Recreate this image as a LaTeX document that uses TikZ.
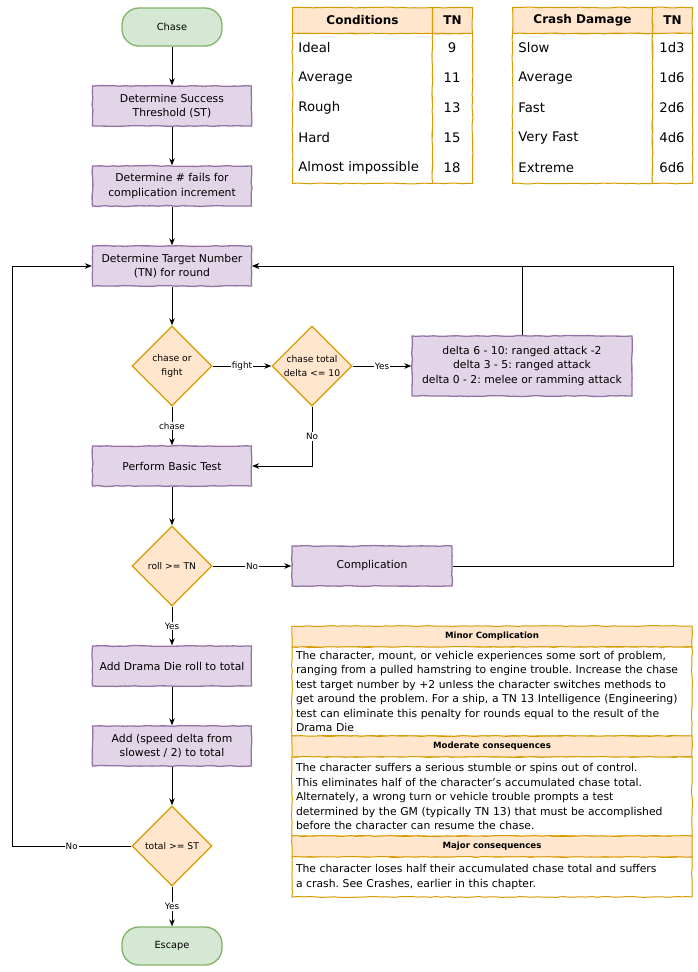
\documentclass[tikz,border=0pt]{standalone}
\usepackage{fontspec}
\setmainfont{DejaVu Sans}
\usepackage{tikz}
\usetikzlibrary{arrows.meta}
\usetikzlibrary{shapes.geometric}
\usetikzlibrary{decorations.pathmorphing}
\definecolor{termfill}{HTML}{D5E8D4}
\definecolor{termline}{HTML}{82B366}
\definecolor{procfill}{HTML}{E1D5E7}
\definecolor{procline}{HTML}{9673A6}
\definecolor{decfill}{HTML}{FFE6CC}
\definecolor{decline}{HTML}{D79B00}
\frenchspacing
\tikzset{
	>={Stealth[length=7pt,width=5.5pt]},
	sketchy/.style={decorate,decoration={random steps,segment length=6pt,amplitude=0.45pt}},
	termstyle/.style={rectangle,rounded corners=17pt,draw=termline,fill=termfill,line width=1.3pt,minimum width=100,minimum height=38,font=\fontsize{9.8}{12}\selectfont},
	procstyle/.style={rectangle,sketchy,draw=procline,fill=procfill,line width=1.3pt,minimum width=159,minimum height=40,align=center,font=\fontsize{10.8}{14.5}\selectfont},
	decstyle/.style={diamond,aspect=1,draw=decline,fill=decfill,line width=1.3pt,minimum width=80,minimum height=80,inner sep=0pt,align=center,font=\fontsize{9.2}{13.5}\selectfont},
	edgelabel/.style={fill=white,inner sep=1pt,font=\fontsize{8.8}{10}\selectfont},
	headstyle/.style={rectangle,sketchy,draw=decline,fill=decfill,line width=1pt,font=\bfseries\fontsize{12}{14}\selectfont},
	bodystyle/.style={rectangle,sketchy,draw=decline,fill=white,line width=1pt},
	cellstyle/.style={inner sep=0pt,font=\fontsize{13.2}{15}\selectfont},
	notehead/.style={rectangle,sketchy,draw=decline,fill=decfill,line width=1pt,minimum width=400,minimum height=21,font=\bfseries\fontsize{8.6}{10}\selectfont},
	notebody/.style={rectangle,sketchy,draw=decline,fill=white,line width=1pt,minimum width=400,text width=392,inner xsep=4pt,align=left,font=\fontsize{10.8}{14.5}\selectfont},
	every path/.append style={line width=0.9pt}
}
\begin{document}
\begin{tikzpicture}[x=1pt,y=-1pt]
	\pgfmathsetseed{11}
	\path[use as bounding box,fill=white] (0,0) rectangle (698,972);
	% flowchart
	\node[termstyle] (chase) at (172,27) {Chase};
	\node[procstyle] (st) at (172,106) {Determine Success\\Threshold (ST)};
	\node[procstyle] (fails) at (172,186) {Determine \# fails for\\complication increment};
	\node[procstyle] (tn) at (172,266) {Determine Target Number\\(TN) for round};
	\node[decstyle] (cof) at (172,366) {chase or\\fight};
	\node[decstyle] (ctd) at (312,366) {chase total\\delta <= 10};
	\node[procstyle,minimum width=220,minimum height=60] (delta) at (522,366) {delta 6 - 10: ranged attack -2\\delta 3 - 5: ranged attack\\delta 0 - 2: melee or ramming attack};
	\node[procstyle] (basic) at (172,466) {Perform Basic Test};
	\node[decstyle] (roll) at (172,566) {roll >= TN};
	\node[procstyle,minimum width=160] (comp) at (372,566) {Complication};
	\node[procstyle] (drama) at (172,666) {Add Drama Die roll to total};
	\node[procstyle] (speed) at (172,746) {Add (speed delta from\\slowest / 2) to total};
	\node[decstyle] (total) at (172,846) {total >= ST};
	\node[termstyle] (escape) at (172,946) {Escape};
	\coordinate (loopL) at (12,266);
	\coordinate (loopR) at (673,266);
	\draw[->] (chase)--(st);
	\draw[->] (st)--(fails);
	\draw[->] (fails)--(tn);
	\draw[->] (tn)--(cof);
	\draw[->] (cof)--node[edgelabel]{fight}(ctd);
	\draw[->] (ctd)--node[edgelabel]{Yes}(delta);
	\draw[->] (delta.north)|-(tn.east);
	\draw[->] (cof)--node[edgelabel]{chase}(basic);
	\draw[->] (ctd)|-node[edgelabel,pos=0.25]{No}(basic);
	\draw[->] (basic)--(roll);
	\draw[->] (roll)--node[edgelabel]{No}(comp);
	\draw[->] (comp)-|(loopR)--(tn);
	\draw[->] (roll)--node[edgelabel]{Yes}(drama);
	\draw[->] (drama)--(speed);
	\draw[->] (speed)--(total);
	\draw[->] (total)--node[edgelabel]{Yes}(escape);
	\draw[->] (total)-|node[edgelabel,pos=0.25]{No}(loopL)--(tn);
	% conditions table
	\node[headstyle,minimum width=140,minimum height=26,anchor=north west] (condhd) at (292,7) {Conditions};
	\node[headstyle,minimum width=40,minimum height=26,anchor=north west] (condtnhd) at (432,7) {TN};
	\node[bodystyle,minimum width=140,minimum height=150,anchor=north west] (condbd) at (292,33) {};
	\node[bodystyle,minimum width=40,minimum height=150,anchor=north west] (condtnbd) at (432,33) {};
	\node[cellstyle,anchor=west] (cond1) at (298,48) {Ideal};
	\node[cellstyle,anchor=west] (cond2) at (298,78) {Average};
	\node[cellstyle,anchor=west] (cond3) at (298,108) {Rough};
	\node[cellstyle,anchor=west] (cond4) at (298,138) {Hard};
	\node[cellstyle,anchor=west] (cond5) at (298,168) {Almost impossible};
	\node[cellstyle] (condtn1) at (452,48) {9};
	\node[cellstyle] (condtn2) at (452,78) {11};
	\node[cellstyle] (condtn3) at (452,108) {13};
	\node[cellstyle] (condtn4) at (452,138) {15};
	\node[cellstyle] (condtn5) at (452,168) {18};
	% crash damage table
	\node[headstyle,minimum width=140,minimum height=26,anchor=north west] (crashhd) at (512,7) {Crash Damage};
	\node[headstyle,minimum width=40,minimum height=26,anchor=north west] (crashtnhd) at (652,7) {TN};
	\node[bodystyle,minimum width=140,minimum height=150,anchor=north west] (crashbd) at (512,33) {};
	\node[bodystyle,minimum width=40,minimum height=150,anchor=north west] (crashtnbd) at (652,33) {};
	\node[cellstyle,anchor=west] (crash1) at (518,48) {Slow};
	\node[cellstyle,anchor=west] (crash2) at (518,78) {Average};
	\node[cellstyle,anchor=west] (crash3) at (518,108) {Fast};
	\node[cellstyle,anchor=west] (crash4) at (518,138) {Very Fast};
	\node[cellstyle,anchor=west] (crash5) at (518,168) {Extreme};
	\node[cellstyle] (crashtn1) at (672,48) {1d3};
	\node[cellstyle] (crashtn2) at (672,78) {1d6};
	\node[cellstyle] (crashtn3) at (672,108) {2d6};
	\node[cellstyle] (crashtn4) at (672,138) {4d6};
	\node[cellstyle] (crashtn5) at (672,168) {6d6};
	% consequences
	\node[notehead] (minorhd) at (492,636.5) {Minor Complication};
	\node[notebody,minimum height=89] (minorbd) at (492,691.5) {The character, mount, or vehicle experiences some sort of problem,\\ranging from a pulled hamstring to engine trouble. Increase the chase\\test target number by +2 unless the character switches methods to\\get around the problem. For a ship, a TN 13 Intelligence (Engineering)\\test can eliminate this penalty for rounds equal to the result of the\\Drama Die};
	\node[notehead] (modhd) at (492,746.5) {Moderate consequences};
	\node[notebody,minimum height=79] (modbd) at (492,796.5) {The character suffers a serious stumble or spins out of control.\\This eliminates half of the character's accumulated chase total.\\Alternately, a wrong turn or vehicle trouble prompts a test\\determined by the GM (typically TN 13) that must be accomplished\\before the character can resume the chase.};
	\node[notehead] (majorhd) at (492,846.5) {Major consequences};
	\node[notebody,minimum height=40] (majorbd) at (492,877) {The character loses half their accumulated chase total and suffers\\a crash. See Crashes, earlier in this chapter.};
\end{tikzpicture}
\end{document}
